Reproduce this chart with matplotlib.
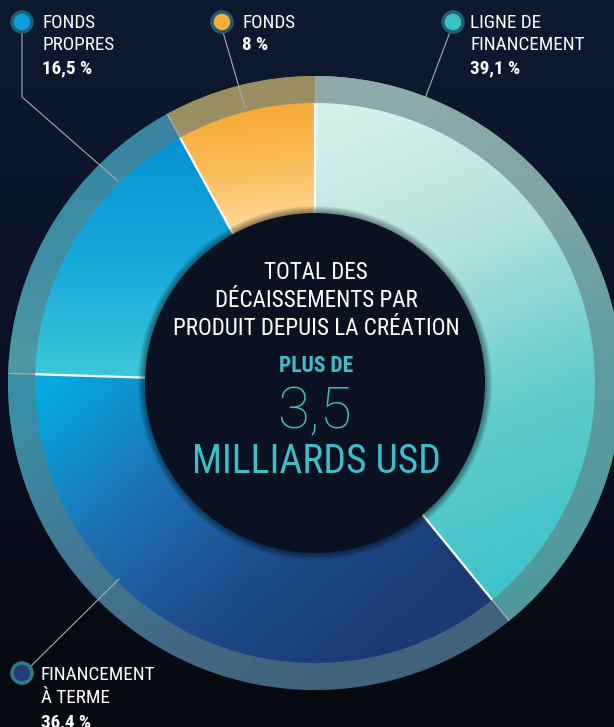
import numpy as np
import matplotlib
matplotlib.use("Agg")
import matplotlib.pyplot as plt
from matplotlib.colors import LinearSegmentedColormap
from matplotlib.patches import Circle, Wedge

# ---- data -------------------------------------------------------------
categories = ["LIGNE DE\nFINANCEMENT", "FINANCEMENT\nÀ TERME", "FONDS\nPROPRES", "FONDS"]
shares = [39.1, 36.4, 16.5, 8.0]
share_labels = ["39,1 %", "36,4 %", "16,5 %", "8 %"]
center_title = ["TOTAL DES", "DÉCAISSEMENTS PAR", "PRODUIT DEPUIS LA CRÉATION"]
center_prefix = "PLUS DE"
center_value = "3,5"
center_unit = "MILLIARDS USD"

# ---- styling ----------------------------------------------------------
W, H = 614, 727
FONT = ["Liberation Sans Narrow", "Roboto Condensed", "DejaVu Sans"]
TEAL = "#3dbfc7"
CX, CY_PX = 315, 383
R_OUT, R_IN, R_HOLE = 307, 280, 170

wedge_gradients = [
    # (start px, end px, colour stops)
    ((330, 110), (520, 585), ["#d9f1eb", "#b4e3db", "#62cccc", "#3ec3c9"]),
    ((60, 380), (330, 690), ["#06a8de", "#1d72b4", "#1d4b8b", "#1b3a74"]),
    ((150, 140), (150, 378), ["#0793d3", "#17a8da", "#3cc7d8"]),
    ((250, 100), (265, 235), ["#f7a833", "#fbbd58", "#ffdda3"]),
]
marker_styles = [
    # (centre px, fill, edge)
    ((453, 22), "#3cc2c6", "#1f5f6e"),
    ((22, 673), "#233b78", "#2b7f82"),
    ((22, 22), "#0a9fdc", "#1f5d70"),
    ((222, 22), "#f7ad3a", "#1f5d70"),
]
leaders = [
    [(450, 32), (418, 117)],
    [(30, 667), (119, 579)],
    [(22, 33), (22, 97), (118, 181)],
    [(223, 32), (245, 108)],
]
label_pos = [(470, [28, 50, 73]), (41, [680, 703, 727]), (42, [28, 50, 73]), (242, [28, 50])]


def py(y):
    return H - y


fig = plt.figure(figsize=(W / 100, H / 100), dpi=100)
ax = fig.add_axes([0, 0, 1, 1])
center = (CX, py(CY_PX))

# background
bg = LinearSegmentedColormap.from_list("bg", ["#06090f", "#0a1222", "#0e1a31"])
ax.imshow(np.linspace(0, 1, 256)[:, None], cmap=bg, extent=(0, W, 0, H),
          origin="lower", aspect="auto", zorder=0)

# pie wedges (used as clip shapes for the gradient fills)
wedges, _ = ax.pie(shares, radius=R_OUT, center=center, startangle=90,
                   counterclock=False, frame=True, colors=["none"] * len(shares),
                   wedgeprops=dict(linewidth=0))

gx, gy = np.meshgrid(np.arange(W) + 0.5, np.arange(H) + 0.5)
for w, (p0, p1, stops) in zip(wedges, wedge_gradients):
    x0, y0 = p0[0], py(p0[1])
    x1, y1 = p1[0], py(p1[1])
    dx, dy = x1 - x0, y1 - y0
    t = np.clip(((gx - x0) * dx + (gy - y0) * dy) / (dx * dx + dy * dy), 0, 1)
    cmap = LinearSegmentedColormap.from_list("g", stops)
    im = ax.imshow(t, cmap=cmap, vmin=0, vmax=1, extent=(0, W, 0, H),
                   origin="lower", aspect="auto", zorder=2, interpolation="bilinear")
    im.set_clip_path(w)

# translucent outer ring
ax.add_patch(Wedge(center, R_OUT, 0, 360, width=R_OUT - R_IN,
                   facecolor="#5c7d80", alpha=0.6, linewidth=0, zorder=3))

# segment boundaries
bounds = 90 - 360 * np.cumsum([0] + shares[:-1]) / sum(shares)
for a in bounds:
    c, s = np.cos(np.radians(a)), np.sin(np.radians(a))
    ax.plot([center[0] + R_HOLE * c, center[0] + R_IN * c],
            [center[1] + R_HOLE * s, center[1] + R_IN * s],
            color="white", lw=1.6, zorder=4, solid_capstyle="butt")
    ax.plot([center[0] + R_IN * c, center[0] + R_OUT * c],
            [center[1] + R_IN * s, center[1] + R_OUT * s],
            color="#a4aaae", lw=1.0, zorder=4, solid_capstyle="butt")

# soft shadow and centre disc
for k in range(7, 0, -1):
    ax.add_patch(Circle(center, R_HOLE + k, facecolor="black", alpha=0.07,
                        linewidth=0, zorder=5))
ax.add_patch(Circle(center, R_HOLE, facecolor="#0a1120", linewidth=0, zorder=6))

# leader lines and markers
for pts in leaders:
    ax.plot([p[0] for p in pts], [py(p[1]) for p in pts], color="#a6acae",
            lw=0.8, zorder=7)
for (mx, my), fc, ec in marker_styles:
    ax.add_patch(Circle((mx, py(my)), 10, facecolor=fc, edgecolor=ec, lw=2.5,
                        zorder=8))

# segment labels
for name, pct, (lx, baselines) in zip(categories, share_labels, label_pos):
    lines = name.split("\n")
    for ln, b in zip(lines, baselines):
        ax.text(lx, py(b), ln, color="white", fontsize=13.8, family=FONT,
                ha="left", va="baseline", zorder=9)
    ax.text(lx, py(baselines[len(lines)]), pct, color="white", fontsize=13.8,
            fontweight="bold", family=FONT, ha="left", va="baseline", zorder=9)

# centre text
for ln, b in zip(center_title, [279, 307, 335]):
    ax.text(CX + 1, py(b), ln, color="white", fontsize=16.6, family=FONT,
            ha="center", va="baseline", zorder=9)
ax.text(CX + 1, py(372), center_prefix, color=TEAL, fontsize=15.5, fontweight="bold",
        family=FONT, ha="center", va="baseline", zorder=9)
ax.text(CX, py(428), center_value, color=TEAL, fontsize=42, fontweight="light",
        family=["Roboto", "DejaVu Sans"], ha="center", va="baseline", zorder=9)
ax.text(CX + 1, py(473), center_unit, color=TEAL, fontsize=28.5, family=FONT,
        ha="center", va="baseline", zorder=9)

ax.set_xlim(0, W)
ax.set_ylim(0, H)
ax.set_aspect("auto")
ax.axis("off")
fig.savefig("out.png", dpi=100)
